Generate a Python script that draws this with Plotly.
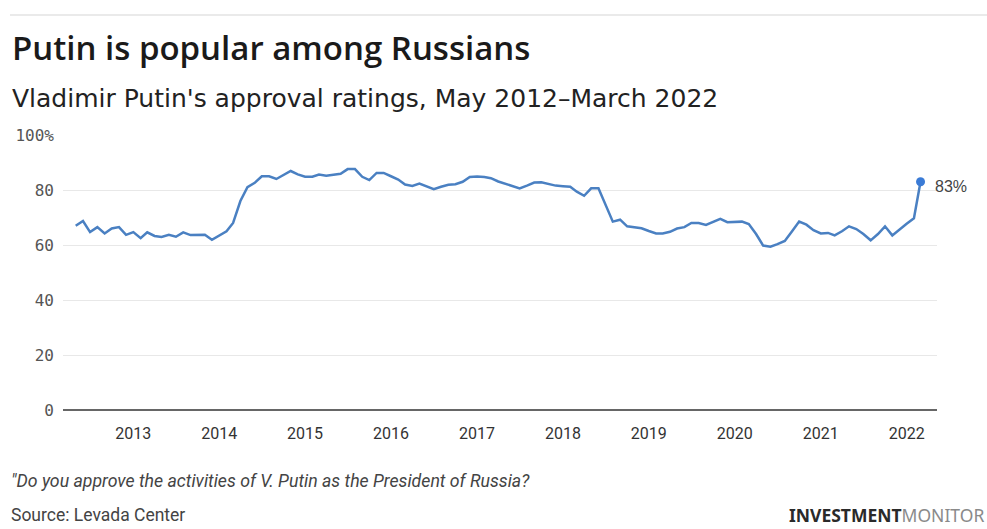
import plotly.graph_objects as go
import pandas as pd

# ---- data ----
start_month = "2012-05-01"
end_month = "2022-03-01"
approval_2012 = [67, 68.7, 64.7, 66.5, 64.2, 66, 66.5, 63.7]  # May-Dec
approval_2013 = [64.7, 62.5, 64.6, 63.3, 62.9, 63.7, 63, 64.6, 63.6, 63.7, 63.7, 61.9]
approval_2014 = [63.6, 65, 68, 76, 81, 82.6, 85, 85, 84, 85.4, 86.9, 85.7]
approval_2015 = [84.8, 84.8, 85.6, 85.2, 85.5, 85.9, 87.6, 87.6, 84.8, 83.6, 86.2, 86.2]
approval_2016 = [85, 83.8, 82, 81.5, 82.3, 81.2, 80.3, 81.2, 81.9, 82.1, 83, 84.7]
approval_2017 = [84.9, 84.7, 84.3, 83.1, 82.2, 81.3, 80.6, 81.6, 82.7, 82.8, 82.2, 81.6]
approval_2018 = [81.4, 81.2, 79.4, 77.9, 80.6, 80.6, None, 68.5, 69.2, 66.8, 66.5, 66.1]
approval_2019 = [65.1, 64.2, 64.2, 64.8, 66, 66.5, 68, 68, 67.3, 68.5, 69.5, 68.3]
approval_2020 = [68.3, 68.5, 67.6, 64, 59.8, 59.4, 60.3, 61.5, 65, 68.5, 67.4, 65.4]
approval_2021 = [64.2, 64.4, 63.5, 65, 66.8, 65.8, 64, 61.7, 64, 66.8, 63.5, 65.4]
approval_2022 = [67.7, 69.7, 83]  # Jan-Mar

year_ticks = ["2013", "2014", "2015", "2016", "2017", "2018", "2019", "2020", "2021", "2022"]
y_ticks = [0, 20, 40, 60, 80, 100]
y_tick_text = ["0", "20", "40", "60", "80", "100%"]
last_label = "83%"

title = "Putin is popular among Russians"
subtitle = "Vladimir Putin's approval ratings, May 2012\u2013March 2022"
note = "\"Do you approve the activities of V. Putin as the President of Russia?"
source = "Source: Levada Center"

approval = (approval_2012 + approval_2013 + approval_2014 + approval_2015 + approval_2016
            + approval_2017 + approval_2018 + approval_2019 + approval_2020 + approval_2021
            + approval_2022)
months = pd.date_range(start_month, end_month, freq="MS")

# ---- layout geometry (pixels) ----
W, H = 987, 529
PL, PR, PT, PB = 63, 937, 135, 410


def px(x):
    return (x - PL) / (PR - PL)


def py(y):
    return (PB - y) / (PB - PT)


LINE = "#4a80c2"
DOT = "#3a7bd6"

fig = go.Figure()
fig.add_trace(go.Scatter(
    x=months, y=approval, mode="lines", connectgaps=True,
    line=dict(color=LINE, width=2.5), hoverinfo="skip", showlegend=False,
))
fig.add_trace(go.Scatter(
    x=[months[-1]], y=[approval[-1]], mode="markers",
    marker=dict(color=DOT, size=9), cliponaxis=False, showlegend=False,
))

annotations = [
    dict(x=months[-1], y=approval[-1], xref="x", yref="y", text=last_label,
         showarrow=False, xanchor="left", yanchor="middle", xshift=12, yshift=-5,
         font=dict(family="Liberation Sans, Arial", size=16, color="#444")),
    dict(x=px(10), y=py(48), xref="paper", yref="paper", text=title, showarrow=False,
         xanchor="left", yanchor="middle",
         font=dict(family="Open Sans", size=33, color="#1a1a1a", weight=600)),
    dict(x=px(10), y=py(98), xref="paper", yref="paper", text=subtitle, showarrow=False,
         xanchor="left", yanchor="middle",
         font=dict(family="DejaVu Sans", size=25, color="#222")),
    dict(x=px(9), y=py(481), xref="paper", yref="paper", text="<i>" + note + "</i>",
         showarrow=False, xanchor="left", yanchor="middle",
         font=dict(family="Roboto", size=17.7, color="#444")),
    dict(x=px(9), y=py(515), xref="paper", yref="paper", text=source, showarrow=False,
         xanchor="left", yanchor="middle",
         font=dict(family="Roboto", size=17.5, color="#444")),
    dict(x=px(986), y=py(515), xref="paper", yref="paper",
         text="<b>INVESTMENT</b><span style='color:#8a8a8a'>MONITOR</span>",
         showarrow=False, xanchor="right", yanchor="middle",
         font=dict(family="Noto Sans", size=17.5, color="#2a2a2a")),
]

fig.update_layout(
    width=W, height=H,
    margin=dict(l=PL, r=W - PR, t=PT, b=H - PB, pad=0),
    paper_bgcolor="white", plot_bgcolor="white",
    annotations=annotations,
    shapes=[dict(type="line", xref="paper", yref="paper",
                 x0=px(10), x1=px(987), y0=py(15), y1=py(15),
                 line=dict(color="#e3e3e3", width=1.5))],
    xaxis=dict(
        type="date",
        range=["2012-03-08", "2022-05-10"],
        tickvals=[f"{y}-01-01" for y in year_ticks],
        ticktext=year_ticks,
        showgrid=False, showline=False, zeroline=False, ticks="",
        ticklabelstandoff=12,
        tickfont=dict(family="Roboto", size=16, color="#333"),
    ),
    yaxis=dict(
        range=[0, 100],
        tickvals=y_ticks, ticktext=y_tick_text,
        showgrid=True, gridcolor="#e8e8e8", gridwidth=1.2,
        zeroline=True, zerolinecolor="#666", zerolinewidth=1.5,
        showline=False, ticks="", ticklabelstandoff=8,
        tickfont=dict(family="DejaVu Sans Mono", size=16, color="#555"),
    ),
)

fig.write_html("out.html")
